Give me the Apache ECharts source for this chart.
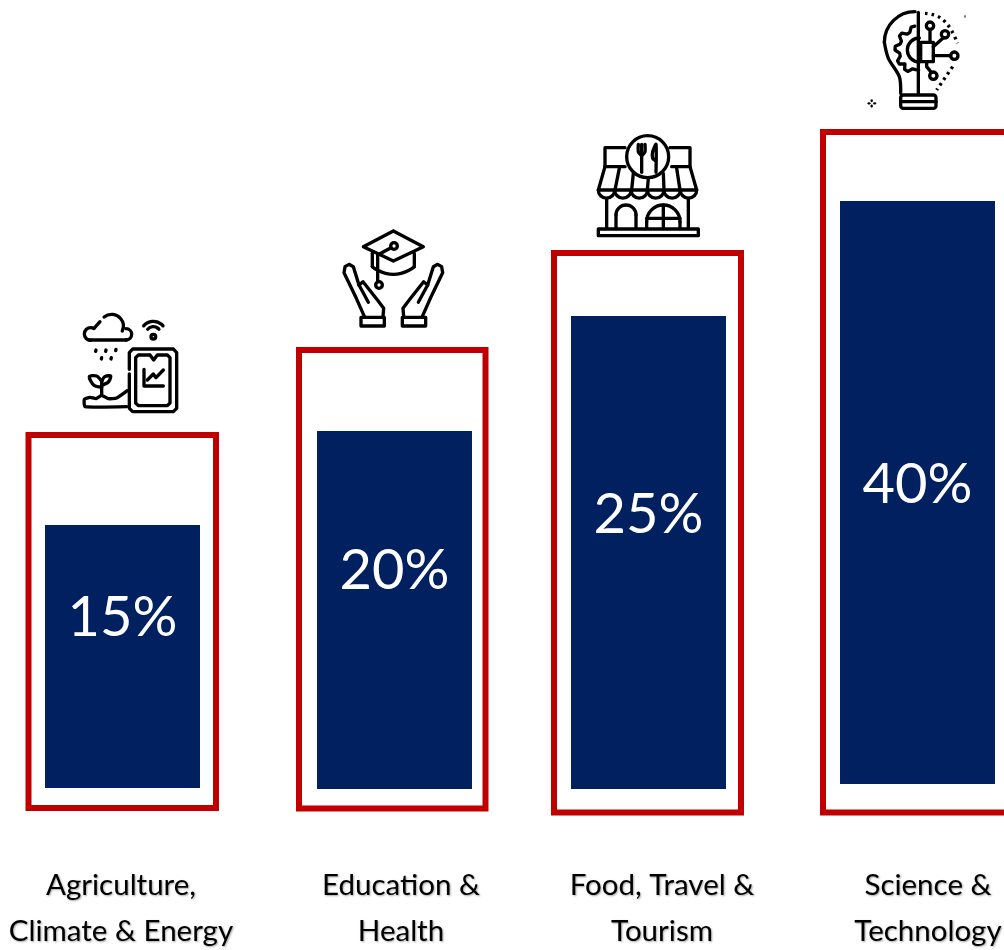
<!DOCTYPE html>
<html lang="en">
  <head>
    <meta charset="UTF-8" />
    <title>Sector shares</title>
    <script src="https://cdn.jsdelivr.net/npm/echarts@6/dist/echarts.min.js"></script>
    <style>
      body { margin: 0; background: #fff; }
      #main { width: 1004px; height: 950px; }
    </style>
  </head>
  <body>
    <div id="main"></div>
    <script>
      // values
      const categories = ['Agriculture,\nClimate & Energy', 'Education &\nHealth', 'Food, Travel &\nTourism', 'Science &\nTechnology'];
      const shareLabels = ['15%', '20%', '25%', '40%'];
      // the drawn heights are not proportional to the shares, so they are kept apart
      const barHeights = [263, 358, 473, 583];
      const frameHeights = [379, 464.5, 565.5, 686.5];

      // layout, in page pixels
      const frameBox = [
        { left: 25.5, width: 193.5, bottom: 811 },
        { left: 296, width: 192.5, bottom: 811.5 },
        { left: 551, width: 193, bottom: 815.5 },
        { left: 820, width: 196, bottom: 815.5 }
      ];
      const barBox = [
        { left: 45, width: 155, bottom: 788 },
        { left: 317, width: 155, bottom: 789 },
        { left: 571, width: 155, bottom: 789 },
        { left: 840, width: 155, bottom: 784 }
      ];
      const labelShift = [-39, -39, -38, -8];
      const textCenter = [121, 401, 662, 928];

      const grid = [], xAxis = [], yAxis = [], series = [];
      function addBar(box, value, seriesOpt) {
        let i = grid.length;
        // the last frame runs off the page, so the grid must not be fitted into it
        grid.push({ left: box.left, width: box.width, top: 0, height: box.bottom, outerBoundsMode: 'none' });
        xAxis.push({ type: 'category', gridIndex: i, show: false, data: ['x'] });
        yAxis.push({ type: 'value', gridIndex: i, show: false, min: 0, max: box.bottom });
        series.push(Object.assign({
          type: 'bar', xAxisIndex: i, yAxisIndex: i, barWidth: '100%', clip: false, silent: true, data: [value]
        }, seriesOpt));
      }

      categories.forEach((name, i) => {
        addBar(frameBox[i], frameHeights[i], {
          z: 2,
          itemStyle: { color: 'rgba(0,0,0,0)', borderColor: '#c00000', borderWidth: 6 }
        });
        addBar(barBox[i], barHeights[i], {
          z: 3,
          itemStyle: { color: '#002060' },
          label: {
            show: true, position: 'inside', offset: [0, labelShift[i]],
            formatter: shareLabels[i], color: '#fff', fontFamily: 'Lato', fontSize: 56
          }
        });
      });

      // icon helpers, coordinates are in 3x units of each icon box
      const ink = { stroke: '#000', fill: null, lineWidth: 10, lineCap: 'round', lineJoin: 'round' };
      function pl(points, smooth, extra) {
        return { type: 'polyline', shape: { points: points, smooth: smooth || 0 }, style: Object.assign({}, ink, extra) };
      }
      function ring(cx, cy, r, fill) {
        return { type: 'circle', shape: { cx: cx, cy: cy, r: r }, style: Object.assign({}, ink, { fill: fill || null }) };
      }
      function arc(cx, cy, r, a, b) {
        return { type: 'arc', shape: { cx: cx, cy: cy, r: r, startAngle: a * Math.PI / 180, endAngle: b * Math.PI / 180, clockwise: true }, style: Object.assign({}, ink) };
      }
      function box(x, y, w, h, r, fill) {
        return { type: 'rect', shape: { x: x, y: y, width: w, height: h, r: r || 0 }, style: Object.assign({}, ink, { fill: fill || null }) };
      }
      function icon(x, y, children) {
        return { type: 'group', x: x, y: y, scaleX: 1 / 3, scaleY: 1 / 3, z: 5, silent: true, children: children };
      }

      const farmIcon = icon(70, 310, [
        pl([[58, 90], [170, 90]]),
        arc(168, 73, 17, -90, 90),
        arc(125, 48, 35, -130, 25),
        arc(62, 72, 19, 90, 300),
        pl([[72, 55], [90, 35]]),
        arc(250, 72, 38, -140, -40),
        arc(250, 72, 22, -140, -40),
        ring(250, 80, 7),
        pl([[78, 120], [77, 124]]), pl([[108, 120], [107, 124]]), pl([[138, 118], [137, 122]]),
        pl([[95, 143], [94, 147]]), pl([[124, 143], [123, 147]]),
        pl([[178, 178], [178, 128], [188, 117], [310, 117], [320, 128], [320, 295], [310, 305], [188, 305], [178, 295], [178, 192]]),
        pl([[240, 135], [205, 135], [197, 143], [197, 279], [205, 287], [292, 287], [300, 279], [300, 143], [292, 135], [262, 135], [251, 150], [240, 135]]),
        pl([[222, 178], [222, 228], [280, 228]]),
        pl([[232, 210], [250, 192], [258, 203], [280, 180]]),
        pl([[95, 212], [95, 252]]),
        pl([[95, 232], [72, 226], [58, 200], [80, 198], [95, 214]], 0.3),
        pl([[95, 226], [115, 216], [122, 198], [104, 200], [95, 214]], 0.3),
        pl([[170, 290], [45, 290], [43, 268], [60, 262], [78, 266], [95, 256], [115, 266], [140, 264], [172, 242]], 0.15)
      ]);

      function hand(m) {
        // m flips the hand over the icon centre
        const f = (pts) => pts.map((p) => [m ? 350 - p[0] : p[0], p[1]]);
        return [
          pl(f([[88, 274], [64, 220], [27, 143], [30, 125], [42, 118], [55, 125], [72, 180]])),
          pl(f([[72, 180], [84, 170], [125, 222], [146, 250], [144, 275]])),
          pl(f([[72, 180], [100, 232]])),
          box(m ? 202 : 78, 277, 70, 26)
        ];
      }
      const eduIcon = icon(335, 225, [
        pl([[112, 85], [112, 125]]),
        pl([[238, 85], [238, 125]]),
        pl([[112, 125], [175, 148], [238, 125]], 0.6),
        pl([[175, 18], [265, 65], [175, 108], [85, 65], [175, 18]]),
        ring(177, 63, 10),
        pl([[168, 68], [128, 90], [128, 170]]),
        ring(132, 180, 10)
      ].concat(hand(false), hand(true)));

      const awningStripes = [[[88, 100], [75, 165]], [[130, 115], [125, 165]], [[175, 130], [172, 165]], [[220, 115], [222, 165]], [[260, 100], [270, 165]]];
      const foodIcon = icon(590, 135, [
        pl([[105, 38], [45, 38], [45, 95]]),
        pl([[240, 38], [300, 38], [300, 95]]),
        pl([[45, 95], [25, 165], [320, 165], [300, 95], [245, 95]]),
        pl([[45, 95], [105, 95]]),
        ring(173, 65, 63, '#fff'),
        pl([[145, 28], [145, 50], [155, 62], [165, 50], [165, 28]], 0.2),
        pl([[155, 28], [155, 112]]),
        pl([[198, 112], [198, 28], [188, 50], [188, 70], [198, 78]], 0.2)
      ].concat(
        awningStripes.map((s) => pl(s)),
        [0, 1, 2, 3, 4, 5].map((k) => arc(49.5 + k * 49.2, 165, 24.6, 0, 180)),
        [
          pl([[50, 190], [50, 280]]),
          pl([[295, 190], [295, 280]]),
          pl([[78, 280], [78, 240]]), arc(108, 240, 30, 180, 360), pl([[138, 240], [138, 280]]),
          pl([[170, 280], [170, 260]]), arc(220, 260, 50, 180, 360), pl([[270, 260], [270, 280]]),
          pl([[170, 250], [270, 250]]),
          pl([[220, 210], [220, 280]]),
          box(25, 282, 300, 20)
        ]
      ));

      // half gear on the left of the bulb stem
      const gearPoints = [];
      for (let a = 92; a <= 268; a += 8.8) {
        let r = Math.floor((a - 92) / 17.6) % 2 ? 73 : 60;
        gearPoints.push([178 + r * Math.cos(a * Math.PI / 180), 135 + r * Math.sin(a * Math.PI / 180)]);
      }
      const techIcon = icon(860, 5, [
        pl([[175, 22], [175, 265]]),
        arc(165, 112, 92, 180, 270),
        pl([[73, 112], [85, 160], [118, 215], [122, 265]], 0.3),
        pl([[195, 25], [250, 45], [292, 115]], 0.5, { lineDash: [8, 12], lineCap: 'butt' }),
        pl([[278, 185], [230, 255]], 0, { lineDash: [8, 12], lineCap: 'butt' }),
        pl(gearPoints),
        arc(178, 135, 36, 90, 270),
        box(182, 112, 38, 58, 0, '#fff'),
        ring(210, 62, 11), pl([[210, 73], [210, 112]]),
        ring(255, 88, 11), pl([[250, 98], [220, 125]]),
        ring(283, 152, 11), pl([[220, 152], [272, 152]]),
        ring(220, 212, 11), pl([[200, 170], [200, 185], [214, 202]]),
        box(122, 270, 106, 40, 8),
        pl([[122, 290], [228, 290]]),
        pl([[35, 286], [35, 288]], 0, { lineWidth: 7 }), pl([[35, 302], [35, 304]], 0, { lineWidth: 7 }),
        pl([[26, 295], [28, 295]], 0, { lineWidth: 7 }), pl([[43, 295], [45, 295]], 0, { lineWidth: 7 }),
        pl([[315, 32], [315, 37]], 0, { lineWidth: 3 })
      ]);

      const categoryTexts = categories.map((name, i) => ({
        type: 'text', x: textCenter[i], y: 862, z: 5, silent: true,
        style: {
          text: name, align: 'center', verticalAlign: 'top', lineHeight: 46,
          fontFamily: 'Lato', fontSize: 29.5, fill: '#000',
          textShadowColor: 'rgba(0,0,0,0.35)', textShadowBlur: 2, textShadowOffsetX: 1, textShadowOffsetY: 1
        }
      }));

      const myChart = echarts.init(document.getElementById('main'));
      myChart.setOption({
        animation: false,
        backgroundColor: '#fff',
        grid: grid,
        xAxis: xAxis,
        yAxis: yAxis,
        series: series,
        graphic: { elements: [farmIcon, eduIcon, foodIcon, techIcon].concat(categoryTexts) }
      });
    </script>
  </body>
</html>
